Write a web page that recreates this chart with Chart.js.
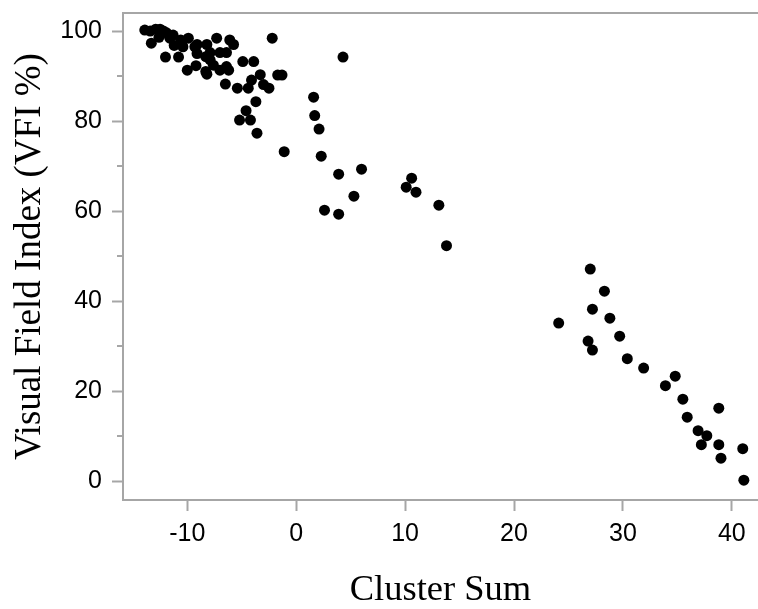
<!DOCTYPE html>
<html>
<head>
<meta charset="utf-8">
<script src="https://cdn.jsdelivr.net/npm/chart.js@4/dist/chart.umd.min.js"></script>
<style>
  html, body { margin: 0; padding: 0; background: #fff; overflow: hidden; }
  #wrap { width: 758px; height: 609px; position: relative; }
  canvas { display: block; }
</style>
</head>
<body>
<div id="wrap"><canvas id="vfiChart"></canvas></div>
<script>
// cluster sum vs VFI
var clusterSum = [
  -13.9, -13.4, -12.9, -12.5, -12.2, -11.9, -13.3, -12.6, -11.6, -11.3,
  -10.6, -9.9, -10.4, -11.2, -12.0, -10.8, -9.1, -8.2, -9.3, -7.3,
  -6.1, -5.75, -7.9, -7.0, -6.4, -9.1, -8.3, -10.0, -9.2, -8.3,
  -8.2, -7.9, -7.6, -7.0, -6.4, -6.2, -4.9, -3.9, -2.2, -6.5,
  -5.4, -4.4, -4.1, -3.3, -3.0, -2.5, -1.7, -1.3, -3.7, -4.6,
  -5.2, -4.2, -3.6, -1.1,
  4.3, 1.6, 1.7, 2.1, 2.3, 6.0, 3.9, 10.6, 10.1, 11.0,
  5.3, 13.1, 2.6, 3.9, 13.8,
  24.1, 27.0, 28.3, 27.2, 28.8, 29.7, 26.8, 27.2, 30.4, 31.9,
  34.8, 33.9, 35.5, 38.8, 35.9, 36.9, 37.7, 37.2, 38.8, 41.0,
  39.0, 41.1
];
var vfiPct = [
  100.2, 100.0, 100.4, 100.4, 100.0, 99.6, 97.3, 98.6, 98.4, 99.1,
  98.0, 98.4, 96.5, 96.8, 94.2, 94.2, 97.0, 97.0, 96.5, 98.4,
  98.0, 97.0, 95.2, 95.2, 95.2, 95.0, 94.3, 91.3, 92.3, 91.0,
  90.4, 93.6, 92.4, 91.3, 92.1, 91.3, 93.2, 93.2, 98.4, 88.2,
  87.3, 87.3, 89.1, 90.3, 88.1, 87.3, 90.2, 90.2, 84.3, 82.3,
  80.2, 80.2, 77.3, 73.2,
  94.2, 85.3, 81.2, 78.2, 72.2, 69.3, 68.2, 67.3, 65.3, 64.2,
  63.3, 61.3, 60.2, 59.3, 52.3,
  35.1, 47.1, 42.2, 38.2, 36.2, 32.2, 31.1, 29.1, 27.2, 25.1,
  23.3, 21.2, 18.2, 16.2, 14.2, 11.2, 10.1, 8.1, 8.1, 7.2,
  5.1, 0.2
];
var xTicks = [-10, 0, 10, 20, 30, 40];
var yTicks = [0, 20, 40, 60, 80, 100];
var yMinorTicks = [10, 30, 50, 70, 90];

var axisGray = '#a6a6a6';

var points = clusterSum.map(function (x, i) {
    return { x: x, y: vfiPct[i] };
});

// top frame line + short minor ticks on the y axis
var framePlugin = {
    id: 'frame',
    afterDraw: function (chart) {
        var ctx = chart.ctx;
        var area = chart.chartArea;
        var ys = chart.scales.y;
        ctx.save();
        ctx.strokeStyle = axisGray;
        ctx.lineWidth = 2;
        ctx.beginPath();
        ctx.moveTo(area.left - 1, area.top);
        ctx.lineTo(area.right, area.top);
        ctx.stroke();
        yMinorTicks.forEach(function (v) {
            var py = Math.round(ys.getPixelForValue(v));
            ctx.beginPath();
            ctx.moveTo(area.left - 6, py);
            ctx.lineTo(area.left, py);
            ctx.stroke();
        });
        ctx.restore();
    }
};

var tickFont = { family: '"Liberation Sans", Arial, Helvetica, sans-serif', size: 25 };
var xTitleFont = { family: '"Liberation Serif", "Times New Roman", Times, serif', size: 36.5, lineHeight: 1 };
var yTitleFont = { family: '"Liberation Serif", "Times New Roman", Times, serif', size: 37, lineHeight: 1 };

new Chart(document.getElementById('vfiChart').getContext('2d'), {
    type: 'scatter',
    data: {
        datasets: [{
            label: 'VFI',
            data: points,
            backgroundColor: '#000',
            borderWidth: 0,
            pointRadius: 5.5,
            pointHoverRadius: 5.5
        }]
    },
    options: {
        responsive: true,
        maintainAspectRatio: false,
        animation: false,
        layout: { autoPadding: false, padding: { top: 13, right: 0, left: 0, bottom: 0 } },
        plugins: {
            legend: { display: false },
            tooltip: { enabled: false }
        },
        scales: {
            x: {
                type: 'linear',
                min: -15.9,
                max: 42.4,
                afterBuildTicks: function (s) {
                    s.ticks = xTicks.map(function (v) { return { value: v }; });
                },
                afterFit: function (s) {
                    s.height = 109;
                    s.paddingLeft = 0;
                    s.paddingRight = 0;
                },
                grid: {
                    drawOnChartArea: false,
                    drawTicks: true,
                    tickLength: 11,
                    tickColor: axisGray,
                    tickWidth: 2
                },
                border: { display: true, color: axisGray, width: 2 },
                ticks: {
                    font: tickFont,
                    color: '#000',
                    padding: 8,
                    maxRotation: 0
                },
                title: {
                    display: true,
                    text: 'Cluster Sum',
                    font: xTitleFont,
                    color: '#000',
                    padding: { top: 0, bottom: 0 }
                }
            },
            y: {
                type: 'linear',
                min: -4.2,
                max: 104,
                afterBuildTicks: function (s) {
                    s.ticks = yTicks.map(function (v) { return { value: v }; });
                },
                afterFit: function (s) {
                    s.width = 123;
                    s.paddingTop = 0;
                    s.paddingBottom = 0;
                },
                grid: {
                    drawOnChartArea: false,
                    drawTicks: true,
                    tickLength: 11,
                    tickColor: axisGray,
                    tickWidth: 2
                },
                border: { display: true, color: axisGray, width: 2 },
                ticks: {
                    font: tickFont,
                    color: '#000',
                    padding: 10
                },
                title: {
                    display: true,
                    text: 'Visual Field Index (VFI %)',
                    font: yTitleFont,
                    color: '#000',
                    padding: { top: 12, bottom: 0 }
                }
            }
        }
    },
    plugins: [framePlugin]
});
</script>
</body>
</html>
